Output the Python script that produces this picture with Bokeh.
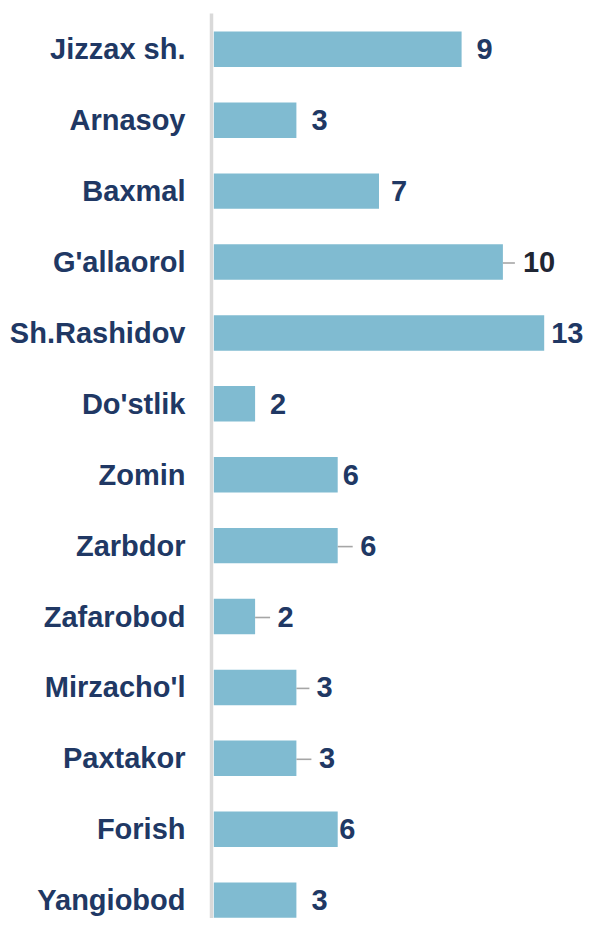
from bokeh.plotting import figure
from bokeh.models import Range1d, FixedTicker, ColumnDataSource
from bokeh.core.properties import value
from bokeh.embed import file_html
from bokeh.resources import INLINE

# ---- data ----
districts = ["Jizzax sh.", "Arnasoy", "Baxmal", "G'allaorol", "Sh.Rashidov", "Do'stlik",
             "Zomin", "Zarbdor", "Zafarobod", "Mirzacho'l", "Paxtakor", "Forish", "Yangiobod"]
bar_lengths = [6, 2, 4, 7, 8, 1, 3, 3, 1, 2, 2, 3, 2]          # drawn bar lengths
value_labels = ["9", "3", "7", "10", "13", "2", "6", "6", "2", "3", "3", "6", "3"]  # printed values

# ---- layout / style ----
label_gap_px = [15, 15, 12, 20, 7, 15, 5, 22.5, 22.5, 20, 22.5, 1.5, 15]
leader_px = [0, 0, 0, 12, 0, 0, 0, 15, 15, 13, 15, 0, 0]
label_colors = ["#203864"] * 13
label_colors[3] = "#1f2633"

NAVY = "#203864"
BAR = "#80BBD1"
W, H = 585, 918
LEFT, TOP = 211, 13
frame_w = W - LEFT
frame_h = H - TOP
unit_px = 41.3
row_px = 70.9
x0 = -2.3 / unit_px
x1 = x0 + frame_w / unit_px
y1 = 12.5 + 0.35 / row_px
y0 = y1 - frame_h / row_px

n = len(districts)
ys = [n - 1 - i for i in range(n)]

p = figure(width=W, height=H, output_backend="svg", toolbar_location=None,
           x_range=Range1d(x0, x1), y_range=Range1d(y0, y1),
           min_border_left=LEFT, min_border_top=TOP, min_border_right=0, min_border_bottom=0)
p.outline_line_color = None
p.grid.visible = False
p.xaxis.visible = False
p.background_fill_color = "white"
p.border_fill_color = "white"

yax = p.yaxis[0]
yax.ticker = FixedTicker(ticks=ys)
yax.major_label_overrides = {y: d for y, d in zip(ys, districts)}
yax.major_tick_in = 0
yax.major_tick_out = 0
yax.minor_tick_in = 0
yax.minor_tick_out = 0
yax.axis_line_color = "#d9d9d9"
yax.axis_line_width = 3.5
yax.major_label_standoff = 26
yax.major_label_text_font = "Liberation Sans"
yax.major_label_text_font_style = "bold"
yax.major_label_text_font_size = "29px"
yax.major_label_text_color = NAVY

src = ColumnDataSource(dict(y=ys, right=bar_lengths, label=value_labels,
                            gap=label_gap_px, color=label_colors))
p.hbar(y="y", left=0, right="right", height=0.5, source=src,
       fill_color=BAR, line_color=None)

# leader lines
lx0, lx1, ly = [], [], []
for y, b, lp in zip(ys, bar_lengths, leader_px):
    if lp > 0:
        lx0.append(b)
        lx1.append(b + lp / unit_px)
        ly.append(y - 1.0 / row_px)
p.segment(x0=lx0, y0=ly, x1=lx1, y1=ly, line_color="#a6a6a6", line_width=1.6)

p.text(x="right", y="y", text="label", x_offset="gap", source=src,
       text_align="left", text_baseline="middle",
       text_font=value("Liberation Sans"), text_font_style="bold",
       text_font_size="29px", text_color="color")

open("out.html", "w").write(file_html(p, INLINE))
